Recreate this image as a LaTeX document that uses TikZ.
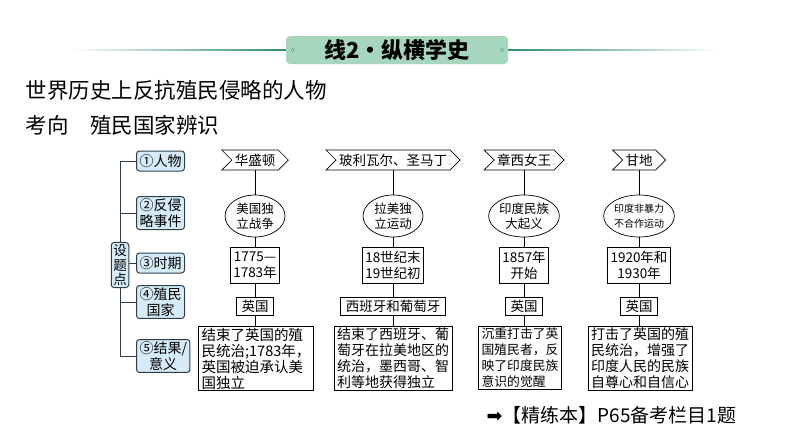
\documentclass[tikz,border=0pt]{standalone}
\usepackage{fontspec}
\setmainfont{Noto Sans CJK SC}
\newfontfamily\arrowfont{DejaVu Sans}
\usepackage{xcolor}
\usetikzlibrary{shapes.geometric,shapes.symbols,positioning}

\definecolor{mintfill}{HTML}{A6D6BD}
\definecolor{headline}{HTML}{2E8B6B}
\definecolor{pointfill}{HTML}{D6EBF7}
\definecolor{pointline}{HTML}{2F3F4A}

\begin{document}
\begin{tikzpicture}[x=1pt,y=-1pt,line width=0.7pt]
    \tikzset{
      headbox/.style={fill=mintfill, rounded corners=4pt, minimum width=222pt, minimum height=28pt,
        font=\fontsize{22}{24}\selectfont\bfseries},
      dot/.style={circle, draw=headline, fill=white, line width=0.4pt, minimum size=3.2pt, inner sep=0pt},
      topic/.style={draw=pointline, fill=pointfill, line width=1pt, rounded corners=3pt, align=center,
        inner sep=2pt, font=\fontsize{13.5}{14.5}\selectfont},
      point/.style={draw=pointline, fill=pointfill, line width=1pt, rounded corners=3pt, align=center,
        anchor=west, inner xsep=3pt, inner ysep=2pt, minimum height=20pt, font=\fontsize{14}{16}\selectfont},
      who/.style={signal, signal to=east, signal from=west, draw, fill=white, minimum height=20pt,
        inner xsep=3pt, inner ysep=0pt, font=\fontsize{13.5}{15}\selectfont},
      event/.style={ellipse, draw, minimum width=60pt, minimum height=42pt, inner sep=0pt, align=center},
      period/.style={draw, minimum height=36pt, inner xsep=3pt, align=center, font=\fontsize{13.5}{16}\selectfont},
      ruler/.style={draw, minimum height=18pt, inner xsep=5pt, inner ysep=0pt, font=\fontsize{13.5}{15}\selectfont},
      result/.style={draw, anchor=north, align=left, inner xsep=3pt, inner ysep=1.5pt},
      line/.style={draw, line width=0.7pt}
    }
    \useasboundingbox (0,0) rectangle (794,447);

    % header bar
    \shade[left color=white, right color=headline] (70,49.3) rectangle (287,50.7);
    \shade[left color=headline, right color=white] (507,49.3) rectangle (720,50.7);
    \node[headbox] (head) at (397,50) {线2・纵横学史};
    \node[dot] (hdl) at ([xshift=7pt]head.west) {};
    \node[dot] (hdr) at ([xshift=-6pt]head.east) {};

    \node[anchor=west, font=\fontsize{21.5}{24}\selectfont] (title) at (22,90) {世界历史上反抗殖民侵略的人物};
    \node[anchor=west, font=\fontsize{21.5}{24}\selectfont] (sub) at (22,125) {考向　殖民国家辨识};

    % question points
    \node[topic] (sp) at (120,265) {设\\题\\点};
    \node[point] (p1) at (136,161) {①人物};
    \node[point] (p2) at (136,213) {②反侵\\略事件};
    \node[point] (p3) at (136,263) {③时期};
    \node[point] (p4) at (136,302) {④殖民\\国家};
    \node[point] (p5) at (136,356) {⑤结果/\\意义};
    \draw[pointline, line width=1pt] (p1.west) -| (sp.north);
    \draw[pointline, line width=1pt] (p2.west) -| (sp.north);
    \draw[pointline, line width=1pt] (p4.west) -| (sp.south);
    \draw[pointline, line width=1pt] (p5.west) -| (sp.south);
    \draw[pointline, line width=1pt] (sp.east |- p3.west) -- (p3.west);

    % the four figures
    \foreach \n/\x/\who/\evt/\ef/\time/\ctry/\rx/\rf/\res in {
      1/255/{华盛顿}/{美国独\\立战争}/12.5/{1775—\\1783年}/{英国}/256/14.5/{结束了英国的殖\\民统治;1783年，\\英国被迫承认美\\国独立},
      2/393/{玻利瓦尔、圣马丁}/{拉美独\\立运动}/12.5/{18世纪末\\19世纪初}/{西班牙和葡萄牙}/393/14/{结束了西班牙、葡\\萄牙在拉美地区的\\统治，墨西哥、智\\利等地获得独立},
      3/524/{章西女王}/{印度民族\\大起义}/12.5/{1857年\\开始}/{英国}/520/12.8/{沉重打击了英\\国殖民者，反\\映了印度民族\\意识的觉醒},
      4/639/{甘地}/{印度非暴力\\不合作运动}/10/{1920年和\\1930年}/{英国}/640/14/{打击了英国的殖\\民统治，增强了\\印度人民的民族\\自尊心和自信心}} {
      \node[who] (who\n) at (\x,160) {\who};
      \node[event, font=\fontsize{\ef}{15}\selectfont] (evt\n) at (\x,216) {\evt};
      \node[period] (time\n) at (\x,265) {\time};
      \node[ruler] (ctry\n) at (\x,306) {\ctry};
      \node[result, font=\fontsize{\rf}{16}\selectfont] (res\n) at (\rx,326) {\res};
      \draw[line] (who\n.south) -- (evt\n.north);
      \draw[line] (evt\n.south) -- (time\n.north);
      \draw[line] (time\n.south) -- (ctry\n.north);
      \draw[line] (ctry\n.south) -- (ctry\n.south |- res\n.north);
    }

    \node[anchor=west, font=\fontsize{19}{22}\selectfont] (ref) at (483,415) {{\arrowfont ➡}【精练本】P65备考栏目1题};
\end{tikzpicture}
\end{document}
